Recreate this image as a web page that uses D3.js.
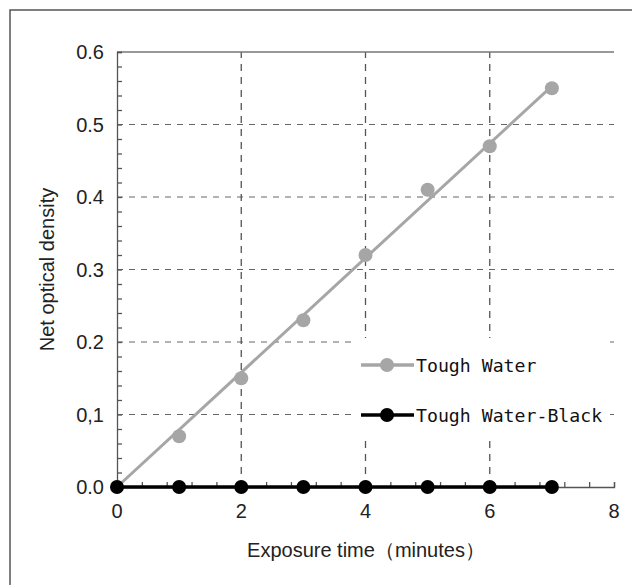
<!DOCTYPE html>
<html>
<head>
<meta charset="utf-8">
<script src="https://cdn.jsdelivr.net/npm/d3@7"></script>
<style>
  body { margin: 0; background: #fff; }
  text { font-family: "Liberation Sans", Arial, sans-serif; fill: #222; }
  .legend text { font-family: "DejaVu Sans Mono", monospace; fill: #111; }
</style>
</head>
<body>
<div class="canvas"></div>
<script>
// data
const minutes = [0, 1, 2, 3, 4, 5, 6, 7];
const toughWater = [0, 0.07, 0.15, 0.23, 0.32, 0.41, 0.47, 0.55];
const toughWaterBlack = [0, 0, 0, 0, 0, 0, 0, 0];
const yTickLabels = ["0.0", "0,1", "0.2", "0.3", "0.4", "0.5", "0.6"];
const xTicks = [0, 2, 4, 6, 8];

const dims = {width: 632, height: 585};
const m = {left: 117, top: 52, right: 18, bottom: 98};

const svg = d3.select(".canvas").append("svg")
    .attr("width", dims.width)
    .attr("height", dims.height);

// outer frame (runs off the right and bottom)
svg.append("rect")
    .attr("x", 10).attr("y", 10)
    .attr("width", 640).attr("height", 600)
    .attr("fill", "none")
    .attr("stroke", "#555")
    .attr("stroke-width", 1.5);

const x = d3.scaleLinear().domain([0, 8]).range([m.left, dims.width - m.right]);
const y = d3.scaleLinear().domain([0, 0.6]).range([dims.height - m.bottom, m.top]);

const graph = svg.append("g");

// dashed grid
graph.selectAll(".hgrid")
    .data(d3.range(1, 6).map(i => i / 10))
    .enter().append("line")
    .attr("x1", x(0)).attr("x2", x(8))
    .attr("y1", d => y(d)).attr("y2", d => y(d))
    .attr("stroke", "#666").attr("stroke-width", 1.2)
    .attr("stroke-dasharray", "6,6");

graph.selectAll(".vgrid")
    .data([2, 4, 6])
    .enter().append("line")
    .attr("x1", d => x(d)).attr("x2", d => x(d))
    .attr("y1", y(0)).attr("y2", y(0.6))
    .attr("stroke", "#555").attr("stroke-width", 1.3)
    .attr("stroke-dasharray", "7,6");

// top line
graph.append("line")
    .attr("x1", x(0)).attr("x2", x(8))
    .attr("y1", y(0.6)).attr("y2", y(0.6))
    .attr("stroke", "#777").attr("stroke-width", 1.5);

// y axis with minor ticks inside
const yAxis = d3.axisRight(y)
    .tickValues(d3.range(0, 31).map(i => i * 0.02))
    .tickSize(5)
    .tickFormat("");
graph.append("g")
    .attr("transform", `translate(${x(0)},0)`)
    .call(yAxis)
    .call(g => g.selectAll("line,path").attr("stroke", "#555").attr("stroke-width", 1.3));

graph.selectAll(".ylab")
    .data(yTickLabels)
    .enter().append("text")
    .attr("x", x(0) - 13)
    .attr("y", (d, i) => y(i / 10))
    .attr("dy", "0.36em")
    .attr("text-anchor", "end")
    .attr("font-size", 20)
    .text(d => d);

// x axis with minor ticks pointing up
const xAxis = d3.axisTop(x)
    .tickValues(d3.range(0, 21).map(i => i * 0.4))
    .tickSize(5)
    .tickFormat("");
graph.append("g")
    .attr("transform", `translate(0,${y(0)})`)
    .call(xAxis)
    .call(g => g.selectAll("line,path").attr("stroke", "#555").attr("stroke-width", 1.3));

graph.selectAll(".xlab")
    .data(xTicks)
    .enter().append("text")
    .attr("x", d => x(d))
    .attr("y", y(0) + 31)
    .attr("text-anchor", "middle")
    .attr("font-size", 20)
    .text(d => d);

// axis titles
svg.append("text")
    .attr("x", 366)
    .attr("y", 557)
    .attr("text-anchor", "middle")
    .attr("font-size", 20)
    .text("Exposure time（minutes）");

svg.append("text")
    .attr("transform", `translate(54,${(y(0) + y(0.6)) / 2}) rotate(-90)`)
    .attr("text-anchor", "middle")
    .attr("font-size", 20)
    .text("Net optical density");

// linear fit through origin for Tough Water
const sxy = d3.sum(minutes, (d, i) => d * toughWater[i]);
const sxx = d3.sum(minutes, d => d * d);
const slope = sxy / sxx;
const xMax = d3.max(minutes);

graph.append("line")
    .attr("x1", x(0)).attr("y1", y(0))
    .attr("x2", x(xMax)).attr("y2", y(slope * xMax))
    .attr("stroke", "#a6a6a6").attr("stroke-width", 3);

graph.selectAll(".gray")
    .data(minutes.slice(1))
    .enter().append("circle")
    .attr("cx", d => x(d))
    .attr("cy", (d, i) => y(toughWater[i + 1]))
    .attr("r", 7)
    .attr("fill", "#a6a6a6");

// Tough Water-Black
const line = d3.line()
    .x(d => x(d))
    .y((d, i) => y(toughWaterBlack[i]));

graph.append("path")
    .attr("d", line(minutes))
    .attr("fill", "none")
    .attr("stroke", "#000")
    .attr("stroke-width", 3.5);

graph.selectAll(".black")
    .data(minutes)
    .enter().append("circle")
    .attr("cx", d => x(d))
    .attr("cy", (d, i) => y(toughWaterBlack[i]))
    .attr("r", 7)
    .attr("fill", "#000");

// legend
const legend = svg.append("g").attr("class", "legend");
legend.append("rect")
    .attr("x", 357).attr("y", 338)
    .attr("width", 253).attr("height", 102)
    .attr("fill", "#fff");

const items = [
    {name: "Tough Water", color: "#a6a6a6", cy: 365},
    {name: "Tough Water-Black", color: "#000", cy: 415}
];
items.forEach(it => {
    legend.append("line")
        .attr("x1", 361).attr("x2", 414)
        .attr("y1", it.cy).attr("y2", it.cy)
        .attr("stroke", it.color).attr("stroke-width", 3.5);
    legend.append("circle")
        .attr("cx", 387).attr("cy", it.cy).attr("r", 7)
        .attr("fill", it.color);
    legend.append("text")
        .attr("x", 416).attr("y", it.cy)
        .attr("dy", "0.36em")
        .attr("font-size", 18.2)
        .text(it.name);
});
</script>
</body>
</html>
